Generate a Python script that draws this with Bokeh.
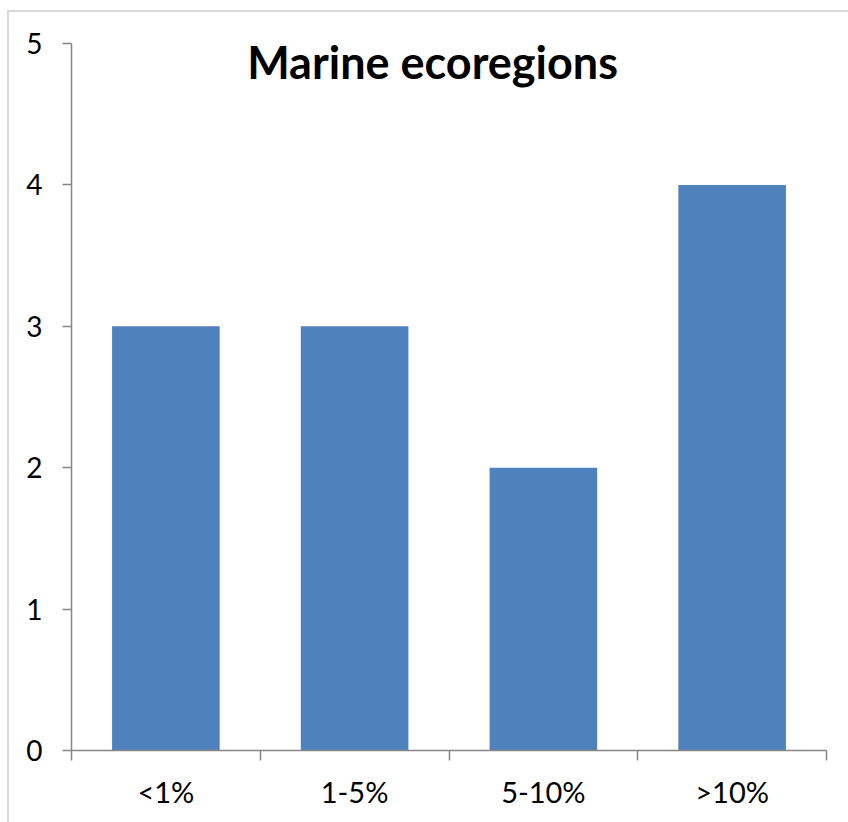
from bokeh.plotting import figure
from bokeh.models import FixedTicker, Label, Range1d
from bokeh.embed import file_html
from bokeh.resources import INLINE

categories = ["<1%", "1-5%", "5-10%", ">10%"]
counts = [3, 3, 2, 4]
y_ticks = [0, 1, 2, 3, 4, 5]
title_text = "Marine ecoregions"

centers = [i + 0.5 for i in range(len(categories))]
bounds = list(range(len(categories) + 1))

FONT = "Lato"
AXIS_COLOR = "#868686"
BORDER = "#D9D9D9"

p = figure(width=848, height=822, output_backend="svg", toolbar_location=None,
           x_range=Range1d(0, len(categories)), y_range=Range1d(0, 5),
           min_border_left=71, min_border_right=22, min_border_top=43, min_border_bottom=72)

p.vbar(x=centers, top=counts, width=0.57, color="#4F81BD", line_color=None)

p.xgrid.visible = False
p.ygrid.visible = False
p.outline_line_color = None
p.background_fill_color = "white"
p.border_fill_color = None
p.styles = {
    "background": (f"linear-gradient({BORDER},{BORDER}) 7px 10px / 2px 100% no-repeat, "
                   f"linear-gradient({BORDER},{BORDER}) 7px 10px / 100% 2px no-repeat, white"),
}

# x axis: labels at category centres, tick marks at category boundaries
p.xaxis.ticker = FixedTicker(ticks=centers, minor_ticks=bounds)
p.xaxis.major_label_overrides = {c: lab for c, lab in zip(centers, categories)}
p.xaxis.major_tick_line_color = None
p.xaxis.major_tick_out = 0
p.xaxis.major_tick_in = 0
p.xaxis.minor_tick_line_color = AXIS_COLOR
p.xaxis.minor_tick_out = 10
p.xaxis.minor_tick_in = 0
p.xaxis.axis_line_color = AXIS_COLOR
p.xaxis.axis_line_width = 1.5
p.xaxis.minor_tick_line_width = 1.5
p.xaxis.major_label_text_font = FONT
p.xaxis.major_label_text_font_size = "29px"
p.xaxis.major_label_text_color = "black"
p.xaxis.major_label_standoff = 13

# y axis
p.yaxis.ticker = FixedTicker(ticks=y_ticks, minor_ticks=[])
p.yaxis.major_tick_out = 9
p.yaxis.major_tick_in = 0
p.yaxis.major_tick_line_color = AXIS_COLOR
p.yaxis.major_tick_line_width = 1.5
p.yaxis.axis_line_color = AXIS_COLOR
p.yaxis.axis_line_width = 1.5
p.yaxis.major_label_text_font = FONT
p.yaxis.major_label_text_font_size = "28px"
p.yaxis.major_label_text_color = "black"
p.yaxis.major_label_standoff = 20

p.add_layout(Label(x=1.913, y=4.87, text=title_text, text_font=FONT,
                   text_font_style="bold", text_font_size="45px",
                   text_align="center", text_baseline="middle", text_color="black"))

open("out.html", "w").write(file_html(p, INLINE))
